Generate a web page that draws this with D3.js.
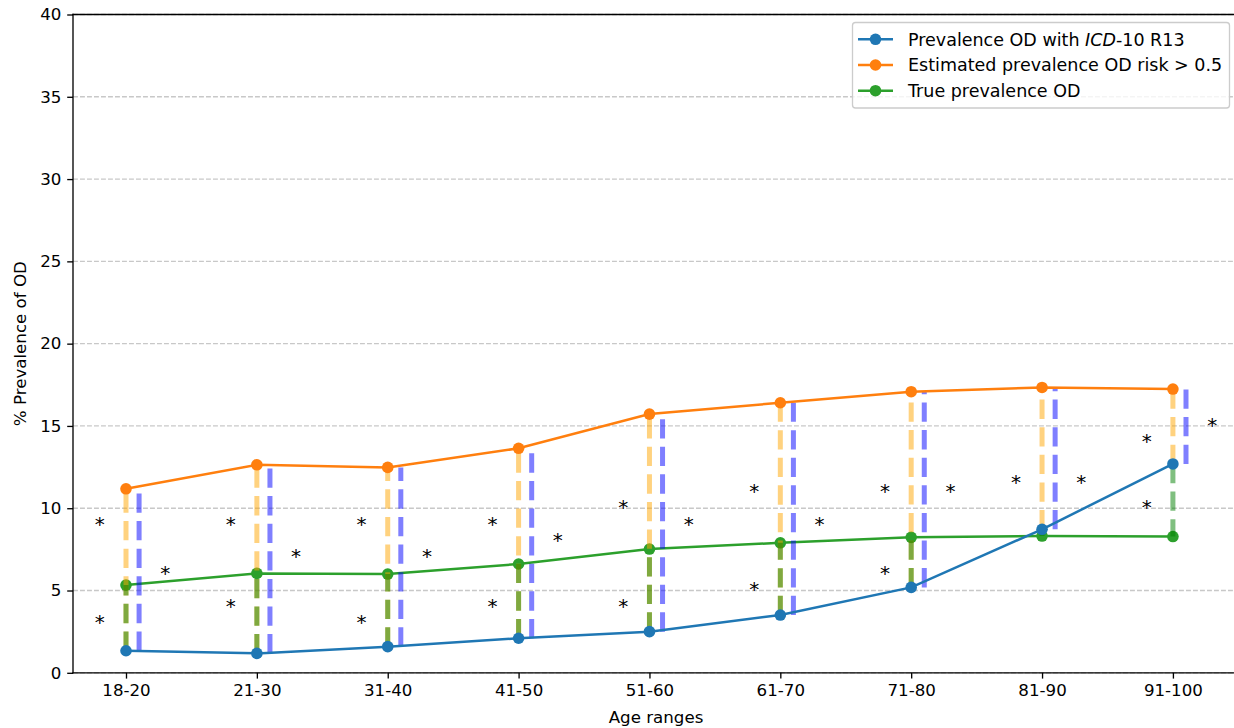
<!DOCTYPE html>
<html>
<head>
  <script src="https://d3js.org/d3.v7.min.js"></script>
  <style>
    html, body {
      margin: 0px;
      padding: 0px;
      background: white;
      overflow: hidden;
    }
    text {
      font-family: "DejaVu Sans", sans-serif;
      fill: black;
    }
  </style>
</head>
<body>
  <script>
    // age groups on the x axis
    const categories = ["18-20", "21-30", "31-40", "41-50", "51-60", "61-70", "71-80", "81-90", "91-100"];

    // % prevalence per age group
    const icdPrev  = [1.34, 1.18, 1.59, 2.10, 2.50, 3.51, 5.19, 8.72, 12.69];
    const estPrev  = [11.18, 12.64, 12.48, 13.64, 15.72, 16.41, 17.08, 17.34, 17.24];
    const truePrev = [5.33, 6.04, 6.00, 6.61, 7.52, 7.90, 8.23, 8.31, 8.28];

    // significance markers (value where each * sits), null = none
    const starLeftTop    = [9, 9, 9, 9, 10, 11, 11, 11.5, 14];
    const starLeftBottom = [3, 4, 3, 4, 4, 5, 6, null, 10];
    const starRight      = [6, 7, 7, 8, 9, 9, 11, 11.5, 15];

    const yTicks = [0, 5, 10, 15, 20, 25, 30, 35, 40];

    const seriesNames = ["Prevalence OD with ICD-10 R13", "Estimated prevalence OD risk > 0.5", "True prevalence OD"];
    const seriesColors = ["#1f77b4", "#ff7f0e", "#2ca02c"];

    const width = 1234;
    const height = 728;
    const fs = 16.67;

    const svg = d3.select("body")
      .append("svg")
      .attr("width", width)
      .attr("height", height);

    const x = d3.scaleLinear()
      .domain([-0.405, 8.505])
      .range([73, 1239]);

    const y = d3.scaleLinear()
      .domain([0, 40])
      .range([672.8, 14.5]);

    // grid
    svg.append("g")
      .selectAll("line")
      .data(yTicks)
      .join("line")
        .attr("x1", x.range()[0])
        .attr("x2", x.range()[1])
        .attr("y1", d => y(d))
        .attr("y2", d => y(d))
        .attr("stroke", "#b0b0b0")
        .attr("stroke-opacity", 0.7)
        .attr("stroke-width", 1.33)
        .attr("stroke-dasharray", "4.9,2.1");

    // axes
    const xAxis = svg.append("g")
      .attr("transform", `translate(0,${y(0)})`)
      .call(d3.axisBottom(x)
        .tickValues(d3.range(categories.length))
        .tickFormat(i => categories[i])
        .tickSize(5.8)
        .tickSizeOuter(0)
        .tickPadding(5.8));

    const yAxis = svg.append("g")
      .attr("transform", `translate(${x.range()[0]},0)`)
      .call(d3.axisLeft(y)
        .tickValues(yTicks)
        .tickSize(5.8)
        .tickSizeOuter(0)
        .tickPadding(5.8));

    [xAxis, yAxis].forEach(a => {
      a.attr("font-size", null).attr("font-family", null);
      a.selectAll("text").style("font-size", fs + "px");
      a.selectAll(".tick line").attr("stroke-width", 1.33);
      a.select(".domain").remove();
    });

    // spines
    const spine = (x1, y1, x2, y2) => svg.append("line")
      .attr("x1", x1).attr("y1", y1).attr("x2", x2).attr("y2", y2)
      .attr("stroke", "black").attr("stroke-width", 1.33)
      .attr("stroke-linecap", "square");
    spine(x.range()[0], y(0), x.range()[1], y(0));
    spine(x.range()[0], y(40), x.range()[1], y(40));
    spine(x.range()[0], y(0), x.range()[0], y(40));

    const line = d3.line()
      .x((d, i) => x(i))
      .y(d => y(d));

    function drawSeries(values, color) {
      const g = svg.append("g");
      g.append("path")
        .datum(values)
        .attr("d", line)
        .attr("fill", "none")
        .attr("stroke", color)
        .attr("stroke-width", 2.5);
      g.selectAll("circle")
        .data(values)
        .join("circle")
          .attr("cx", (d, i) => x(i))
          .attr("cy", d => y(d))
          .attr("r", 5.8)
          .attr("fill", color);
    }

    drawSeries(truePrev, seriesColors[2]);

    // dashed gaps, all starting at the ICD-10 value so dashes line up
    function drawGaps(to, offset, color) {
      svg.append("g")
        .selectAll("line")
        .data(categories)
        .join("line")
          .attr("x1", (d, i) => x(i + offset))
          .attr("x2", (d, i) => x(i + offset))
          .attr("y1", (d, i) => y(icdPrev[i]))
          .attr("y2", (d, i) => y(to[i]))
          .attr("stroke", color)
          .attr("stroke-opacity", 0.5)
          .attr("stroke-width", 5)
          .attr("stroke-dasharray", "19.3,8.3");
    }
    drawGaps(estPrev, 0, "#ffa500");
    drawGaps(truePrev, 0, "#008000");
    drawGaps(estPrev, 0.1, "#0000ff");

    drawSeries(icdPrev, seriesColors[0]);
    drawSeries(estPrev, seriesColors[1]);

    // asterisks
    function drawStars(values, offset) {
      svg.append("g")
        .selectAll("text")
        .data(values.map((v, i) => ({v, i})).filter(d => d.v !== null))
        .join("text")
          .attr("x", d => x(d.i + offset))
          .attr("y", d => y(d.v) + 5.9)
          .attr("text-anchor", "middle")
          .style("font-size", "20px")
          .text("*");
    }
    drawStars(starLeftTop, -0.2);
    drawStars(starLeftBottom, -0.2);
    drawStars(starRight, 0.3);

    // axis labels
    svg.append("text")
      .attr("x", (x.range()[0] + x.range()[1]) / 2)
      .attr("y", 722.5)
      .attr("text-anchor", "middle")
      .style("font-size", fs + "px")
      .text("Age ranges");

    svg.append("text")
      .attr("transform", `translate(26,${(y(0) + y(40)) / 2}) rotate(-90)`)
      .attr("text-anchor", "middle")
      .style("font-size", fs + "px")
      .text("% Prevalence of OD");

    // legend
    const legend = svg.append("g");
    legend.append("rect")
      .attr("x", 852.5)
      .attr("y", 22.5)
      .attr("width", 377)
      .attr("height", 85.5)
      .attr("rx", 3)
      .attr("fill", "white")
      .attr("fill-opacity", 0.8)
      .attr("stroke", "#cccccc")
      .attr("stroke-width", 1.33);

    const legendOrder = [0, 1, 2];
    legendOrder.forEach((s, k) => {
      const ly = 39.3 + k * 25.7;
      legend.append("line")
        .attr("x1", 858).attr("x2", 893)
        .attr("y1", ly).attr("y2", ly)
        .attr("stroke", seriesColors[s])
        .attr("stroke-width", 2.5);
      legend.append("circle")
        .attr("cx", 875.5).attr("cy", ly).attr("r", 5.8)
        .attr("fill", seriesColors[s]);
      const t = legend.append("text")
        .attr("x", 908)
        .attr("y", ly)
        .attr("dy", "0.36em")
        .style("font-size", "17.5px");
      if (s === 0) {
        t.append("tspan").text("Prevalence OD with ");
        t.append("tspan").attr("font-style", "italic").text("ICD");
        t.append("tspan").text("-10 R13");
      } else {
        t.text(seriesNames[s]);
      }
    });
  </script>
</body>
</html>
